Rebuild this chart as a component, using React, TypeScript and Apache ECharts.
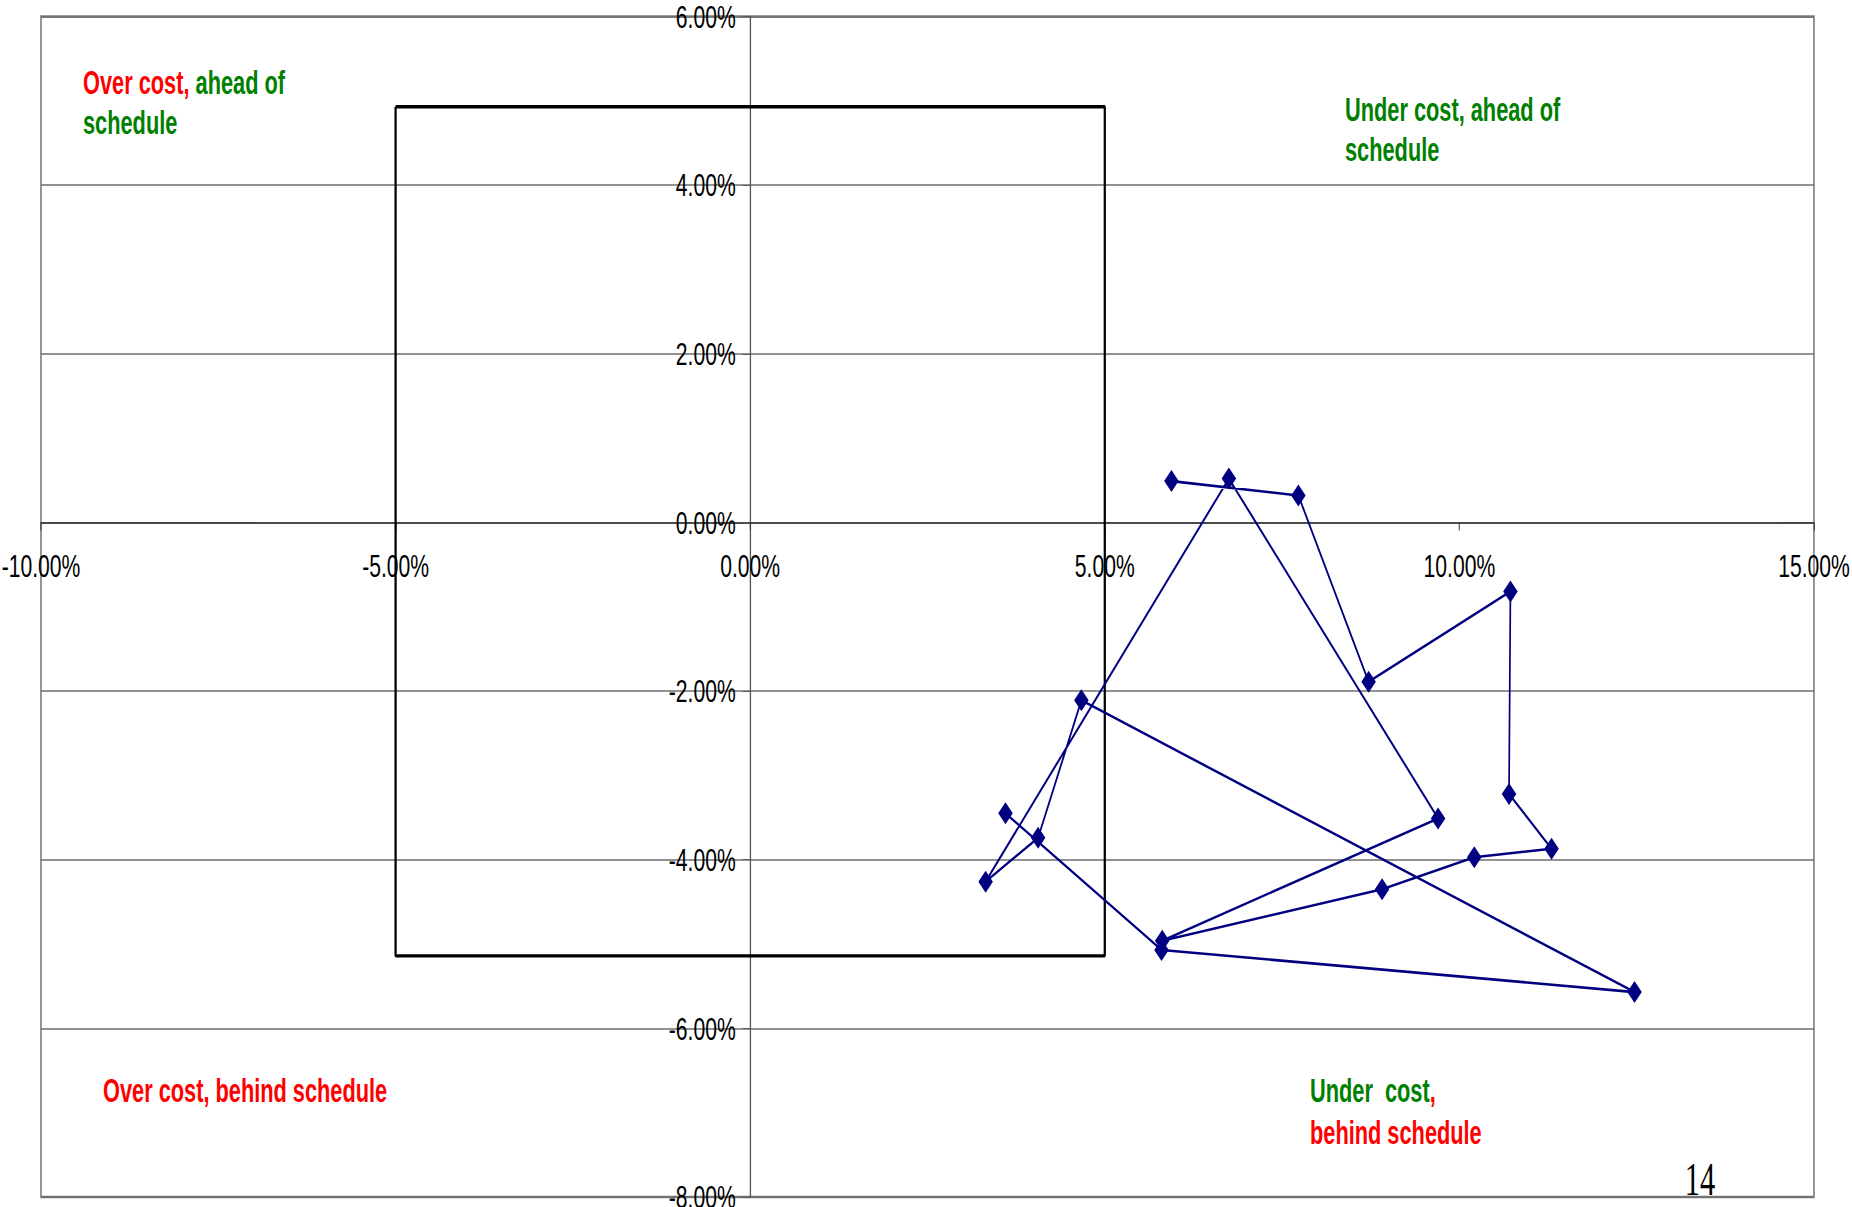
import React, { useEffect, useRef } from "react";
import * as echarts from "echarts";

// X: cost variance (%), Y: schedule variance (%)
const xTicks = [-10, -5, 0, 5, 10, 15];
const yTicks = [-8, -6, -4, -2, 0, 2, 4, 6];

const costVariance = [3.6, 5.8, 12.47, 4.67, 4.06, 3.32, 6.75, 9.7, 5.81, 8.91, 10.21, 11.3, 10.7, 10.72, 8.72, 7.73, 5.94];
const scheduleVariance = [-3.45, -5.07, -5.57, -2.11, -3.74, -4.26, 0.52, -3.51, -4.96, -4.35, -3.97, -3.87, -3.22, -0.82, -1.89, 0.32, 0.49];

// tolerance box
const boxX = [-5, 5, 5, -5, -5];
const boxY = [4.93, 4.93, -5.14, -5.14, 4.93];

const PAGE_W = 1852;
const PAGE_H = 1207;
// the reference's lettering is condensed; draw wider and squeeze horizontally
const SX = 0.66;
const W = PAGE_W / SX;

const SANS = "'Liberation Sans', Arial, sans-serif";
const RED = "#ff0000";
const GREEN = "#008000";

export default function App() {
  const ref = useRef<HTMLDivElement>(null);

  useEffect(() => {
    document.body.style.margin = "0";
    const chart = echarts.init(ref.current!, null, { renderer: "svg" });
    const pts = costVariance.map((x, i) => [x, scheduleVariance[i]]);
    const box = boxX.map((x, i) => [x, boxY[i]]);
    const fmt = (v: number) => v.toFixed(2) + "%";
    const qFont = { fontFamily: SANS, fontSize: 33, fontWeight: "bold" as const };

    const gLeft = 41 / SX;
    const gRight = W - 1814 / SX;
    const gTop = 16.5;
    const gBottom = 10;
    const plotW = W - gLeft - gRight;
    const plotH = PAGE_H - gTop - gBottom;
    const xMin = xTicks[0];
    const xMax = xTicks[xTicks.length - 1];
    const yMin = yTicks[0];
    const yMax = yTicks[yTicks.length - 1];
    const zeroX = gLeft + ((0 - xMin) / (xMax - xMin)) * plotW;
    const zeroY = gTop + ((yMax - 0) / (yMax - yMin)) * plotH;
    const xOffset = -(PAGE_H - gBottom - zeroY);
    const yOffset = -(zeroX - gLeft);

    chart.setOption({
      animation: false,
      backgroundColor: "#ffffff",
      grid: {
        left: gLeft,
        right: gRight,
        top: gTop,
        bottom: gBottom,
        containLabel: false,
        outerBoundsMode: "none",
        show: true,
        borderColor: "#808080",
        borderWidth: 2.5,
        backgroundColor: "transparent",
      },
      xAxis: {
        type: "value",
        min: xMin,
        max: xMax,
        interval: 5,
        position: "bottom",
        offset: xOffset,
        axisLine: { onZero: false, lineStyle: { color: "#333333", width: 1.5 } },
        axisTick: { show: true, length: 8, lineStyle: { color: "#333333", width: 1.5 } },
        axisLabel: {
          margin: 27,
          fontSize: 32,
          color: "#000000",
          fontFamily: SANS,
          formatter: fmt,
          showMinLabel: true,
          showMaxLabel: true,
        },
        splitLine: { show: false },
      },
      yAxis: {
        type: "value",
        min: yMin,
        max: yMax,
        interval: 2,
        position: "left",
        offset: yOffset,
        axisLine: { onZero: false, lineStyle: { color: "#555555", width: 2 } },
        axisTick: { show: true, length: 12, lineStyle: { color: "#555555" } },
        axisLabel: {
          margin: 22,
          fontSize: 32,
          color: "#000000",
          fontFamily: SANS,
          formatter: fmt,
          showMinLabel: true,
          showMaxLabel: true,
        },
        splitLine: { show: true, lineStyle: { color: "#6e6e6e", width: 1.5 } },
      },
      series: [
        {
          type: "line",
          data: box,
          showSymbol: false,
          symbol: "none",
          lineStyle: { color: "#000000", width: 3.4 },
          z: 2,
          silent: true,
        },
        {
          type: "line",
          data: pts,
          symbol: "diamond",
          symbolSize: [22, 22],
          itemStyle: { color: "#000080" },
          lineStyle: { color: "#000080", width: 2.6 },
          z: 3,
        },
      ],
      graphic: [
        {
          type: "text",
          x: 83 / SX,
          y: 63,
          style: {
            text: "{r|Over cost,} {g|ahead of}\n{g|schedule}",
            ...qFont,
            rich: {
              r: { ...qFont, fill: RED, lineHeight: 40 },
              g: { ...qFont, fill: GREEN, lineHeight: 40 },
            },
          },
        },
        {
          type: "text",
          x: 1345 / SX,
          y: 90,
          style: {
            text: "{g|Under cost, ahead of}\n{g|schedule}",
            ...qFont,
            rich: {
              g: { ...qFont, fill: GREEN, lineHeight: 40 },
            },
          },
        },
        {
          type: "text",
          x: 103 / SX,
          y: 1071,
          style: {
            text: "{r|Over cost, behind schedule}",
            ...qFont,
            rich: {
              r: { ...qFont, fill: RED, lineHeight: 40 },
            },
          },
        },
        {
          type: "text",
          x: 1310 / SX,
          y: 1070,
          style: {
            text: "{g|Under  cost}{r|,}\n{r|behind schedule}",
            ...qFont,
            rich: {
              r: { ...qFont, fill: RED, lineHeight: 42 },
              g: { ...qFont, fill: GREEN, lineHeight: 42 },
            },
          },
        },
        {
          type: "text",
          x: 1700 / SX,
          y: 1179,
          style: {
            text: "14",
            fontFamily: "'Liberation Serif', 'Times New Roman', serif",
            fontSize: 46,
            fill: "#000000",
            align: "center",
            verticalAlign: "middle",
          },
        },
      ],
    });
    return () => chart.dispose();
  }, []);

  return (
    <div
      style={{
        position: "absolute",
        left: 0,
        top: 0,
        width: PAGE_W,
        height: PAGE_H,
        overflow: "hidden",
        background: "#ffffff",
      }}
    >
      <div
        ref={ref}
        style={{
          width: W,
          height: PAGE_H,
          transform: `scaleX(${SX})`,
          transformOrigin: "0 0",
        }}
      />
    </div>
  );
}
